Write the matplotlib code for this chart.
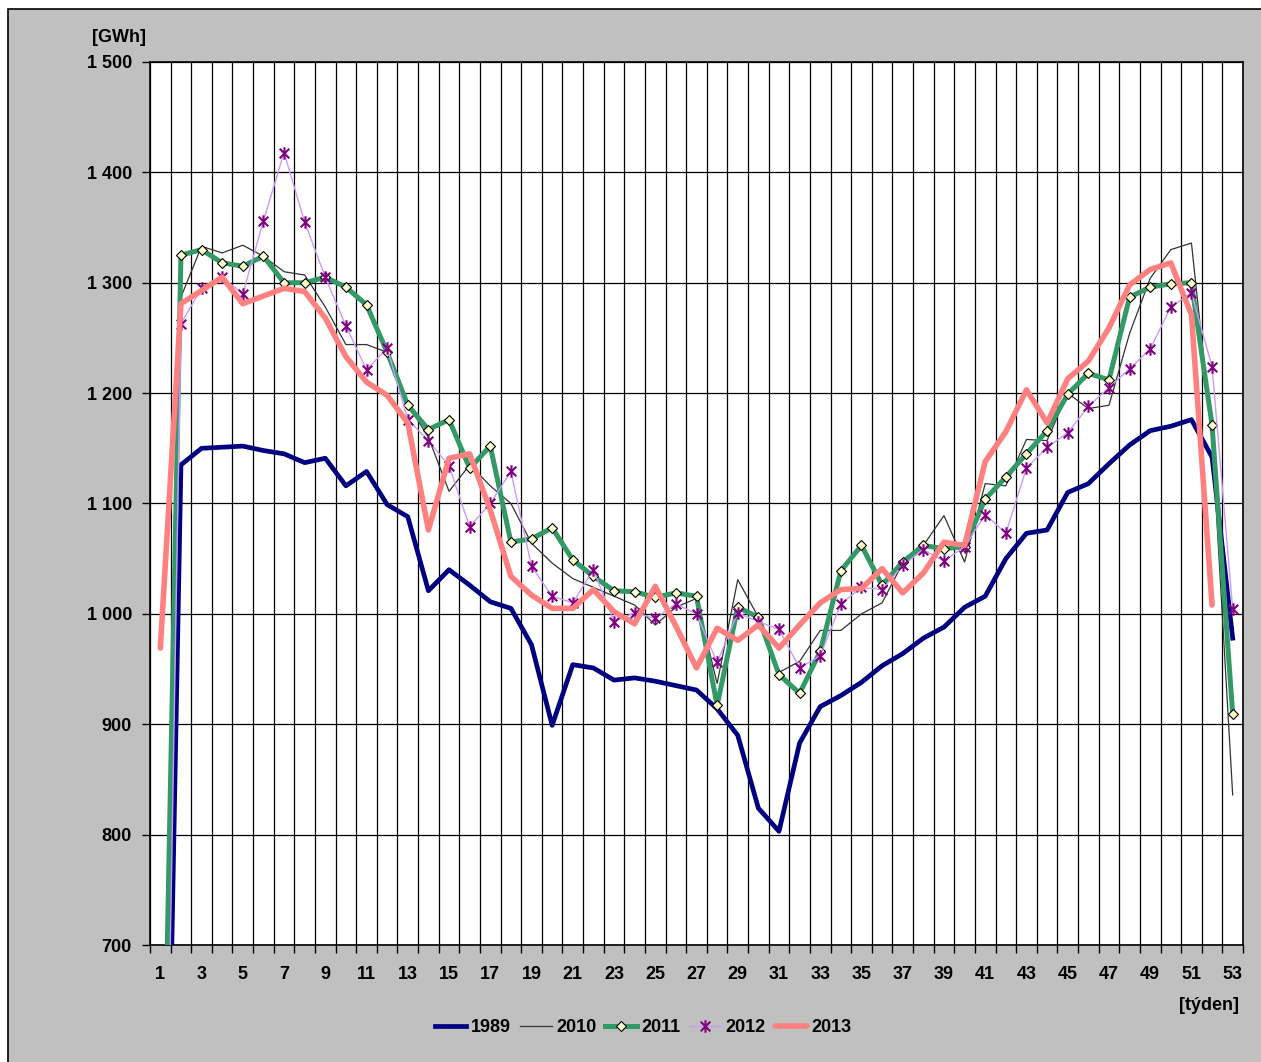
import matplotlib.pyplot as plt
from matplotlib.path import Path
from matplotlib.patches import Rectangle
from matplotlib.ticker import FixedLocator, NullFormatter

OUTPUT_IMAGE = "out.png"

# weekly electricity consumption [GWh]
weeks = list(range(1, 54))

y1989 = [150, 1135, 1150, 1151, 1152, 1148, 1145, 1137, 1141, 1116,
         1129, 1099, 1088, 1021, 1040, 1026, 1011, 1005, 972, 899,
         954, 951, 940, 942, 939, 935, 931, 914, 890, 824,
         803, 883, 916, 926, 938, 953, 964, 978, 988, 1006,
         1016, 1050, 1073, 1076, 1110, 1118, 1136, 1153, 1166, 1170,
         1176, 1142, 978]

y2010 = [200, 1287, 1333, 1327, 1334, 1324, 1310, 1307, 1278, 1244,
         1244, 1237, 1190, 1160, 1111, 1135, 1116, 1100, 1064, 1046,
         1032, 1024, 1016, 1008, 990, 1006, 1014, 937, 1031, 997,
         947, 957, 985, 985, 1000, 1010, 1046, 1062, 1089, 1047,
         1118, 1116, 1158, 1157, 1200, 1186, 1189, 1254, 1304, 1330,
         1336, 1160, 836]

y2011 = [380, 1325, 1330, 1318, 1315, 1324, 1300, 1300, 1305, 1296,
         1280, 1237, 1189, 1167, 1176, 1132, 1152, 1065, 1068, 1078,
         1049, 1034, 1021, 1020, 1015, 1019, 1016, 917, 1006, 997,
         945, 928, 966, 1039, 1062, 1026, 1047, 1062, 1059, 1061,
         1104, 1124, 1145, 1166, 1199, 1218, 1212, 1287, 1296, 1299,
         1300, 1171, 909]

y2012 = [170, 1263, 1295, 1305, 1290, 1356, 1418, 1355, 1305, 1261,
         1221, 1241, 1176, 1157, 1134, 1079, 1100, 1129, 1043, 1016,
         1010, 1040, 993, 1001, 996, 1009, 1000, 956, 1001, 993,
         986, 951, 962, 1009, 1024, 1022, 1044, 1058, 1048, 1061,
         1090, 1073, 1132, 1151, 1164, 1188, 1205, 1222, 1240, 1278,
         1291, 1224, 1004]

y2013 = [969, 1281, 1293, 1305, 1281, 1288, 1295, 1292, 1268, 1233,
         1210, 1198, 1173, 1076, 1141, 1145, 1094, 1034, 1017, 1005,
         1005, 1022, 1002, 991, 1025, 989, 951, 987, 976, 990,
         969, 990, 1010, 1022, 1023, 1041, 1019, 1037, 1065, 1062,
         1138, 1165, 1203, 1173, 1213, 1229, 1259, 1298, 1312, 1318,
         1271, 1008]

y_ticks = [700, 800, 900, 1000, 1100, 1200, 1300, 1400, 1500]
y_tick_labels = ["700", "800", "900", "1 000", "1 100", "1 200", "1 300", "1 400", "1 500"]
x_tick_labels = list(range(1, 54, 2))

# star marker: X with a vertical stroke
star = Path([(-1, -1), (1, 1), (-1, 1), (1, -1), (0, -1.3), (0, 1.3)],
            [Path.MOVETO, Path.LINETO, Path.MOVETO, Path.LINETO, Path.MOVETO, Path.LINETO])

FS = 13
bold = {"family": "Liberation Sans", "weight": "bold", "size": FS}

fig = plt.figure(figsize=(12.61, 10.62), dpi=100, facecolor="white")
fig.patches.append(Rectangle((8 / 1261, -0.1), 1.2, 1 - 9 / 1062 + 0.1,
                             transform=fig.transFigure, facecolor="#c0c0c0",
                             edgecolor="black", linewidth=1.2, zorder=-10))

ax = fig.add_axes([150 / 1261, 1 - 945 / 1062, 1093 / 1261, 883 / 1062])
ax.set_facecolor("white")

ax.plot(weeks, y1989, color="#000080", lw=3.4, solid_joinstyle="round", label="1989", zorder=3)
ax.plot(weeks, y2010, color="#333333", lw=0.9, label="2010", zorder=4)
ax.plot(weeks, y2011, color="#339966", lw=3.6, solid_joinstyle="round", marker="D",
        markersize=5.5, markerfacecolor="#ffffcc", markeredgecolor="black",
        markeredgewidth=0.8, label="2011", zorder=5)
ax.plot(weeks, y2012, color="#cc99ff", lw=1.0, marker=star, markersize=9,
        markeredgecolor="#800080", markerfacecolor="none", markeredgewidth=1.5,
        label="2012", zorder=6)
ax.plot(weeks[:len(y2013)], y2013, color="#ff8080", lw=4.0, solid_joinstyle="round",
        solid_capstyle="round", label="2013", zorder=7)

ax.set_xlim(0.5, 53.5)
ax.set_ylim(700, 1500)

# gridlines sit between weeks
ax.xaxis.set_major_locator(FixedLocator([w + 0.5 for w in range(0, 54)]))
ax.xaxis.set_major_formatter(NullFormatter())
ax.xaxis.set_minor_locator(FixedLocator(x_tick_labels))
ax.set_xticklabels(x_tick_labels, minor=True, fontdict=bold)
ax.tick_params(axis="x", which="major", direction="out", length=6, width=1, color="black")
ax.tick_params(axis="x", which="minor", length=0, pad=15)

ax.set_yticks(y_ticks)
ax.set_yticklabels(y_tick_labels, fontdict=bold)
ax.tick_params(axis="y", direction="out", length=6, width=1, pad=7)

ax.grid(True, which="major", color="black", lw=0.9)
ax.set_axisbelow(True)
for s in ax.spines.values():
    s.set_linewidth(1.2)
    s.set_color("black")

fig.text(119 / 1261, 1 - 38 / 1062, "[GWh]", ha="center", va="center", fontdict=bold)
fig.text(1209 / 1261, 1 - 1005 / 1062, "[týden]", ha="center", va="center", fontdict=bold)

leg = fig.legend(loc="center", bbox_to_anchor=(643 / 1261, 1 - 1028 / 1062), ncol=5,
                 frameon=False, handlelength=1.75, handletextpad=0.25, columnspacing=0.5,
                 prop={"family": "Liberation Sans", "weight": "bold", "size": FS})

fig.savefig(OUTPUT_IMAGE, dpi=100, facecolor=fig.get_facecolor())
plt.close(fig)
